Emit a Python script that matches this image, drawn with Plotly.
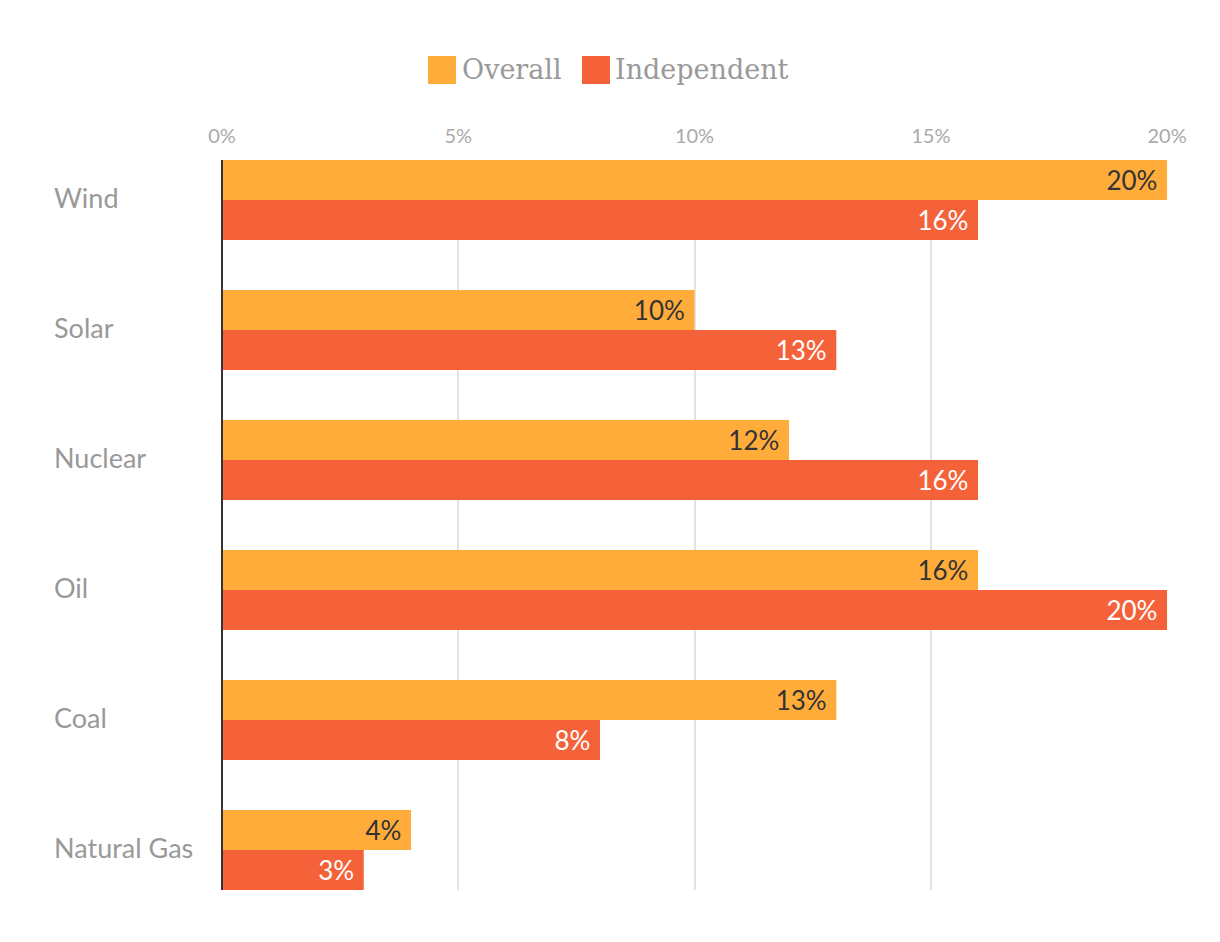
import plotly.graph_objects as go

categories = ["Wind", "Solar", "Nuclear", "Oil", "Coal", "Natural Gas"]
overall = [20, 10, 12, 16, 13, 4]
independent = [16, 13, 16, 20, 8, 3]
series_names = ["Overall", "Independent"]
x_ticks = [0, 5, 10, 15, 20]
x_tick_labels = ["0%", "5%", "10%", "15%", "20%"]

C_OVERALL = "#FFAC3B"
C_INDEP = "#F5623A"
SANS = "Lato, 'Open Sans', sans-serif"
SERIF = "'DejaVu Serif', serif"

# page has an 8px body margin; plot area on page: x 222..1168, y 160..890
OFF = 8
W, H = 1220 - OFF, 942 - OFF
L, R, T, B = 222 - OFF, 52, 160 - OFF, 52
pw, ph = W - L - R, H - T - B
PL, PT = L + OFF, T + OFF  # plot area left/top in page px


def px(xp):
    return (xp - PL) / pw


def py(yp):
    return 1 - (yp - PT) / ph


fig = go.Figure()
fig.add_trace(go.Bar(
    y=categories, x=overall, orientation="h", name=series_names[0],
    marker=dict(color=C_OVERALL, line=dict(width=0)),
    text=[f"{v}%\u00a0" for v in overall], textposition="inside",
    insidetextanchor="end", textangle=0,
    insidetextfont=dict(family=SANS, size=26, color="#333333"),
    showlegend=False, hoverinfo="skip",
))
fig.add_trace(go.Bar(
    y=categories, x=independent, orientation="h", name=series_names[1],
    marker=dict(color=C_INDEP, line=dict(width=0)),
    text=[f"{v}%\u00a0" for v in independent], textposition="inside",
    insidetextanchor="end", textangle=0,
    insidetextfont=dict(family=SANS, size=26, color="#FFFFFF"),
    showlegend=False, hoverinfo="skip",
))

# category labels, left aligned
for c in categories:
    fig.add_annotation(x=px(52), xref="paper", y=c, yref="y", text=c,
                       showarrow=False, xanchor="left", yanchor="middle", yshift=3,
                       font=dict(family=SANS, size=27, color="#999999"))

# custom legend
legend_items = [(series_names[0], C_OVERALL, 428, 460), (series_names[1], C_INDEP, 582, 613)]
for name, col, sx, tx in legend_items:
    fig.add_shape(type="rect", xref="paper", yref="paper",
                  x0=px(sx), x1=px(sx + 28), y0=py(84), y1=py(56),
                  fillcolor=col, line=dict(width=0))
    fig.add_annotation(x=px(tx), xref="paper", y=py(70), yref="paper", text=name,
                       showarrow=False, xanchor="left", yanchor="middle",
                       font=dict(family=SERIF, size=27, color="#999999"))

fig.update_layout(
    width=W, height=H,
    margin=dict(l=L, r=R, t=T, b=B),
    paper_bgcolor="white", plot_bgcolor="white",
    barmode="group", bargap=0.385, bargroupgap=0,
    xaxis=dict(side="top", range=[0, 20.02], tickvals=x_ticks, ticktext=x_tick_labels,
               showgrid=True, gridcolor="#E3E3E3", gridwidth=2, zeroline=False,
               showline=False, ticks="", ticklen=0, ticklabelstandoff=12,
               tickfont=dict(family=SANS, size=20, color="#AAAAAA")),
    yaxis=dict(categoryorder="array", categoryarray=categories,
               range=[5 + 40 / 130, -40 / 130], showticklabels=False,
               showgrid=False, zeroline=False, ticks="",
               showline=False),
    showlegend=False,
)
fig.add_shape(type="line", xref="paper", yref="paper", x0=0, x1=0, y0=0, y1=1,
              line=dict(color="#333333", width=2))

fig.write_html("out.html")
